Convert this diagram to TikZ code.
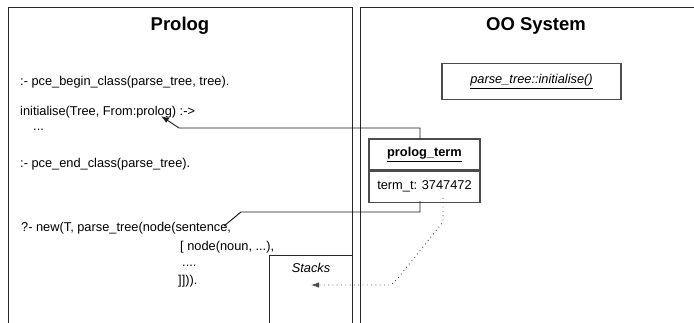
\documentclass[tikz,border=0pt]{standalone}
\usepackage{fontspec}
\setmainfont{Liberation Sans}
\usetikzlibrary{arrows.meta,calc}
\newcommand\us{\char"5F\relax}
\tikzset{
  frame/.style={draw=black!85, line width=0.9pt},
  title/.style={font=\fontsize{18.5}{20}\selectfont\bfseries, inner sep=0pt},
  code/.style={font=\fontsize{12.8}{14}\selectfont, inner sep=0pt, anchor=base west},
  objbox/.style={draw=black!70, line width=1.3pt, inner sep=0pt},
  conn/.style={draw=black!90, line width=0.95pt},
  arr/.style={conn, -{Latex[length=8pt,width=5.5pt]}},
  dots/.style={draw=black!70, line width=0.9pt, dash pattern=on 0.9pt off 3.4pt, -{Latex[length=8pt,width=5.5pt]}}
}
\begin{document}
\begin{tikzpicture}[x=1pt,y=-1pt]
\useasboundingbox (0,0) rectangle (694,323);
% frames
\draw[frame] (8,323) -- (8,7) -- (352,7) -- (352,323);
\draw[frame] (360,323) -- (360,7) -- (694,7);
\draw[frame] (269,323) -- (269,255) -- (352,255);
% titles
\node[title] (tprolog) at (180,26) {Prolog};
\node[title] (too) at (536,26) {OO System};
% prolog code
\node[code] (l1) at (20,85.5) {:- pce\us begin\us class(parse\us tree, tree).};
\node[code] (l2) at (20,115.5) {initialise(Tree, From:prolog) :->};
\node[code] (l3) at (33,131) {...};
\node[code] (l4) at (20,168) {:- pce\us end\us class(parse\us tree).};
\node[code] (l5) at (21,232) {?- new(T, parse\us tree(node(sentence,};
\node[code] (l6) at (180,251) {[ node(noun, ...),};
\node[code] (l7) at (182,267) {....};
\node[code] (l8) at (178,285) {]])).};
\node[code, font=\fontsize{12.8}{14}\selectfont\itshape, anchor=center] (stacks) at (311,268) {Stacks};
% OO objects
\node[objbox, minimum width=179pt, minimum height=36pt, font=\fontsize{12.8}{14}\selectfont\itshape] (ptinit) at (531.5,81.5) {\underline{parse\us tree::initialise()}};
\node[objbox, minimum width=111pt, minimum height=31pt, font=\fontsize{12.8}{14}\selectfont\bfseries] (pt) at (424.5,154.5) {\underline{prolog\us term}};
\node[objbox, minimum width=111pt, minimum height=31pt, anchor=north, font=\fontsize{12.8}{14}\selectfont] (ptv) at (pt.south) {term\us t: 3747472};
% connectors
\coordinate (ptTop) at (420,139);
\coordinate (ptBot) at (420,201);
\coordinate (tipProlog) at (161,116);
\coordinate (endSentence) at (224,226);
\coordinate (valOut) at (443,198);
\coordinate (tipStacks) at (311,285);
\draw[arr] (ptTop) -- (420,128) -- (179,128) -- (tipProlog);
\draw[conn] (ptBot) -- (420,212) -- (241,212) -- (endSentence);
\draw[dots] (valOut) -- (443,222) -- (398,278) -- (391,285) -- (tipStacks);
\end{tikzpicture}
\end{document}
